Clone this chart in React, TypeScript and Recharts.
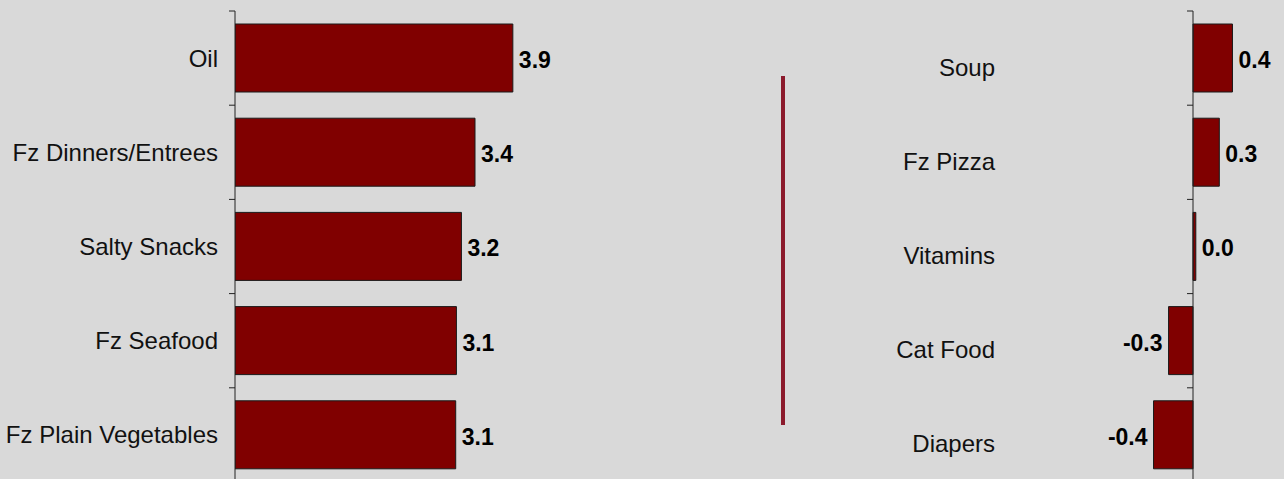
import React from 'react';
import { BarChart, Bar, XAxis, YAxis, ReferenceLine, LabelList } from 'recharts';

const leftCategories = ['Oil', 'Fz Dinners/Entrees', 'Salty Snacks', 'Fz Seafood', 'Fz Plain Vegetables'];
const leftValues = [3.89, 3.36, 3.17, 3.1, 3.09];
const rightCategories = ['Soup', 'Fz Pizza', 'Vitamins', 'Cat Food', 'Diapers'];
const rightValues = [0.42, 0.28, 0.03, -0.26, -0.42];
const leftDomain: [number, number] = [0, 7];
const rightDomain: [number, number] = [-2, 1];

const leftData = leftCategories.map((name, i) => ({ name, value: leftValues[i] }));
const rightData = rightCategories.map((name, i) => ({ name, value: rightValues[i] }));

const FONT = '"Liberation Sans", Arial, sans-serif';
const CAT_FONT_SIZE = 24;
const VALUE_FONT_SIZE = 23;

const makeAxisShape = (n: number) => (props: any) => {
  const { x1, y1, y2 } = props;
  const top = Math.min(y1, y2);
  const bottom = Math.max(y1, y2);
  const ticks = [];
  for (let i = 0; i <= n; i++) {
    const y = top + ((bottom - top) * i) / n;
    ticks.push(<line key={i} x1={x1 - 6} x2={x1} y1={y} y2={y} stroke="#222" strokeWidth={1} />);
  }
  return (
    <g>
      <line x1={x1} x2={x1} y1={top} y2={bottom} stroke="#222" strokeWidth={1} />
      {ticks}
    </g>
  );
};

const makeTick = (dy: number) => (props: any) => {
  const { x, y, payload } = props;
  return (
    <text x={x} y={y + dy} textAnchor="end" dominantBaseline="central" fontFamily={FONT} fontSize={CAT_FONT_SIZE} fill="#111">
      {payload.value}
    </text>
  );
};

const ValueLabel = (props: any) => {
  const { x, y, width, height, value } = props;
  const v = Number(value);
  const a = Math.min(x, x + width);
  const b = Math.max(x, x + width);
  const pos = v >= 0;
  return (
    <text
      x={pos ? b + 6 : a - 6}
      y={y + height / 2 + 2}
      textAnchor={pos ? 'start' : 'end'}
      dominantBaseline="central"
      fontFamily={FONT}
      fontSize={VALUE_FONT_SIZE}
      fontWeight="bold"
      fill="#000"
    >
      {v.toFixed(1)}
    </text>
  );
};

export default function App() {
  return (
    <div
      style={{
        position: 'absolute',
        left: 0,
        top: 0,
        width: 1284,
        height: 479,
        overflow: 'hidden',
        background: '#d9d9d9',
      }}
    >
      <div style={{ position: 'absolute', left: 0, top: 0 }}>
        <BarChart
          width={740}
          height={500}
          data={leftData}
          layout="vertical"
          margin={{ top: 11, right: 5, bottom: 18, left: 0 }}
        >
          <XAxis type="number" domain={leftDomain} hide allowDataOverflow />
          <YAxis
            type="category"
            dataKey="name"
            width={235}
            axisLine={false}
            tickLine={false}
            tickSize={0}
            tickMargin={17}
            interval={0}
            tick={makeTick(0)}
          />
          <Bar dataKey="value" barSize={68} fill="#800000" stroke="#1a1a1a" strokeWidth={1} isAnimationActive={false}>
            <LabelList dataKey="value" content={ValueLabel} />
          </Bar>
          <ReferenceLine x={0} shape={makeAxisShape(leftCategories.length)} ifOverflow="visible" />
        </BarChart>
      </div>
      <div
        style={{
          position: 'absolute',
          left: 781,
          top: 76,
          width: 4,
          height: 349,
          background: '#8b1a2c',
        }}
      />
      <div style={{ position: 'absolute', left: 800, top: 0 }}>
        <BarChart
          width={500}
          height={500}
          data={rightData}
          layout="vertical"
          margin={{ top: 11, right: 13, bottom: 18, left: 0 }}
        >
          <XAxis type="number" domain={rightDomain} hide allowDataOverflow />
          <YAxis
            type="category"
            dataKey="name"
            width={205}
            axisLine={false}
            tickLine={false}
            tickSize={0}
            tickMargin={10}
            interval={0}
            tick={makeTick(9)}
          />
          <Bar dataKey="value" barSize={68} fill="#800000" stroke="#1a1a1a" strokeWidth={1} isAnimationActive={false}>
            <LabelList dataKey="value" content={ValueLabel} />
          </Bar>
          <ReferenceLine x={0} shape={makeAxisShape(rightCategories.length)} ifOverflow="visible" />
        </BarChart>
      </div>
    </div>
  );
}
